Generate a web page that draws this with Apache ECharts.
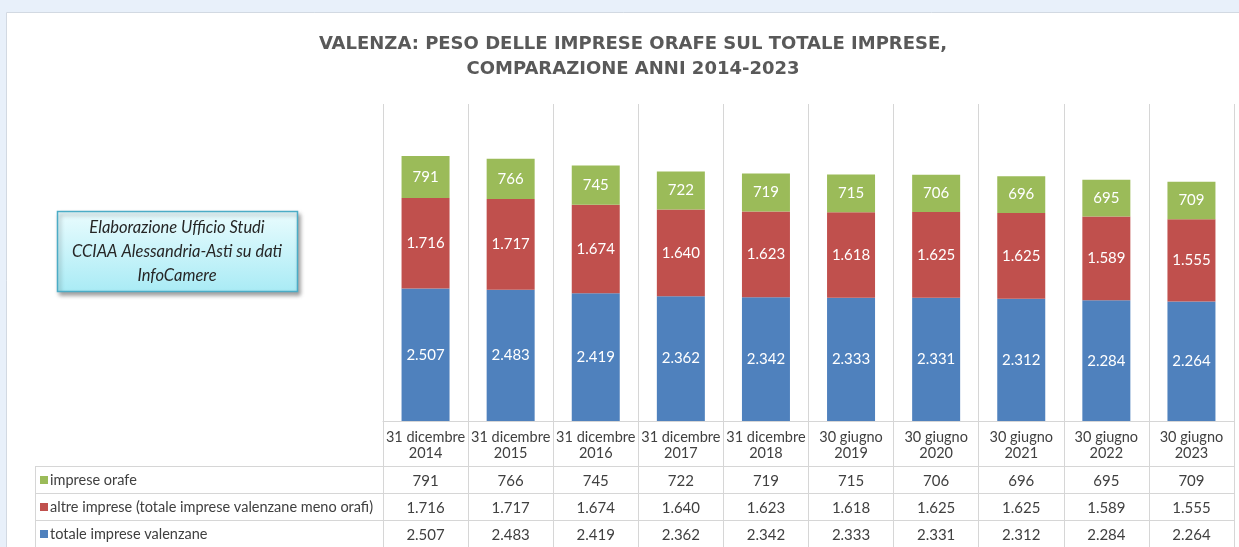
<!DOCTYPE html>
<html>
<head>
<meta charset="utf-8">
<script src="https://cdn.jsdelivr.net/npm/echarts@6/dist/echarts.min.js"></script>
<style>
  html, body { margin: 0; padding: 0; width: 100%; height: 100%; background: #e8f0fa; }
  #chart { width: 1239px; height: 547px; }
</style>
</head>
<body>
<div id="chart"></div>
<script>
// dati
var categories = ['31 dicembre\n2014', '31 dicembre\n2015', '31 dicembre\n2016', '31 dicembre\n2017', '31 dicembre\n2018',
  '30 giugno\n2019', '30 giugno\n2020', '30 giugno\n2021', '30 giugno\n2022', '30 giugno\n2023'];
var orafe = [791, 766, 745, 722, 719, 715, 706, 696, 695, 709];
var altre = [1716, 1717, 1674, 1640, 1623, 1618, 1625, 1625, 1589, 1555];
var totale = [2507, 2483, 2419, 2362, 2342, 2333, 2331, 2312, 2284, 2264];
var seriesNames = ['totale imprese valenzane', 'altre imprese (totale imprese valenzane meno orafi)', 'imprese orafe'];

var FONT = 'Lato, "DejaVu Sans Condensed", sans-serif';
var GRID_COL = '#d6d6d6';
var TXT = '#404040';

function fmt(v) {
  return String(v).replace(/\B(?=(\d{3})+(?!\d))/g, '.');
}

// asse "riga tabella" sotto il grafico
function tableRow(offset, values) {
  return {
    type: 'category', position: 'bottom', offset: offset, data: categories,
    axisLine: { show: true, lineStyle: { color: GRID_COL } },
    axisTick: { show: true, length: 27, lineStyle: { color: GRID_COL } },
    axisLabel: {
      interval: 0, margin: 8, color: TXT, fontSize: 15, fontFamily: FONT,
      formatter: function (v, i) { return fmt(values[i]); }
    },
    splitLine: { show: false }
  };
}

var chart = echarts.init(document.getElementById('chart'));
var option = {
  animation: false,
  color: ['#4f81bd', '#c0504d', '#9bbb59'],
  title: {
    text: 'VALENZA: PESO DELLE IMPRESE ORAFE SUL TOTALE IMPRESE,\nCOMPARAZIONE ANNI 2014-2023',
    left: 628, top: 27, textAlign: 'center',
    textStyle: { fontSize: 18, fontWeight: 'bold', color: '#595959', lineHeight: 25, fontFamily: '"DejaVu Sans", sans-serif' }
  },
  legend: {
    orient: 'vertical', left: 40, top: 471, itemGap: 9, padding: 0,
    itemWidth: 8, itemHeight: 8, icon: 'rect',
    data: ['imprese orafe', 'altre imprese (totale imprese valenzane meno orafi)', 'totale imprese valenzane'],
    textStyle: { fontSize: 14.5, lineHeight: 18, color: TXT, fontFamily: FONT, padding: [0, 0, 0, -3] }
  },
  grid: { left: 383, right: 5, top: 104, bottom: 126 },
  xAxis: [
    {
      type: 'category', position: 'bottom', data: categories,
      axisLine: { show: true, lineStyle: { color: GRID_COL } },
      axisTick: { show: true, length: 45, lineStyle: { color: GRID_COL } },
      axisLabel: { interval: 0, margin: 8, color: TXT, fontSize: 14.5, lineHeight: 16, fontFamily: FONT },
      splitLine: { show: true, lineStyle: { color: GRID_COL } }
    },
    tableRow(45, orafe),
    tableRow(72, altre),
    tableRow(99, totale)
  ],
  yAxis: { type: 'value', min: 0, max: 6000, show: false },
  series: [
    { name: seriesNames[0], data: totale },
    { name: seriesNames[1], data: altre },
    { name: seriesNames[2], data: orafe }
  ].map(function (s) {
    return {
      name: s.name, type: 'bar', stack: 'tot', data: s.data, barWidth: 48,
      label: { show: true, position: 'inside', color: '#fff', fontSize: 15, fontFamily: FONT, formatter: function (p) { return fmt(p.value); } }
    };
  }),
  graphic: [
    { type: 'rect', z: -10, silent: true, shape: { x: 6.5, y: 12.5, width: 1240, height: 540 }, style: { fill: '#fff', stroke: '#d2d9e2', lineWidth: 1 } },
    // cornice legenda tabella
    { type: 'line', silent: true, shape: { x1: 35.5, y1: 466, x2: 35.5, y2: 547 }, style: { stroke: GRID_COL } },
    { type: 'line', silent: true, shape: { x1: 35, y1: 466.5, x2: 383, y2: 466.5 }, style: { stroke: GRID_COL } },
    { type: 'line', silent: true, shape: { x1: 35, y1: 493.5, x2: 383, y2: 493.5 }, style: { stroke: GRID_COL } },
    { type: 'line', silent: true, shape: { x1: 35, y1: 520.5, x2: 383, y2: 520.5 }, style: { stroke: GRID_COL } },
    // box fonte
    {
      type: 'rect', silent: true, shape: { x: 57.5, y: 211.5, width: 240, height: 80 },
      style: {
        fill: new echarts.graphic.LinearGradient(0, 0, 0, 1, [{ offset: 0, color: '#eafcfe' }, { offset: 1, color: '#a9ebf5' }]),
        stroke: '#4bacc6', lineWidth: 1.5,
        shadowBlur: 4, shadowOffsetX: 2, shadowOffsetY: 3, shadowColor: 'rgba(0,0,0,0.35)'
      }
    },
    {
      type: 'text', silent: true, x: 177, y: 252,
      style: {
        text: 'Elaborazione Ufficio Studi\nCCIAA Alessandria-Asti su dati\nInfoCamere',
        fill: '#262626', font: 'italic 16.5px Lato, sans-serif', lineHeight: 24,
        align: 'center', verticalAlign: 'middle'
      }
    }
  ]
};
chart.setOption(option);
</script>
</body>
</html>
